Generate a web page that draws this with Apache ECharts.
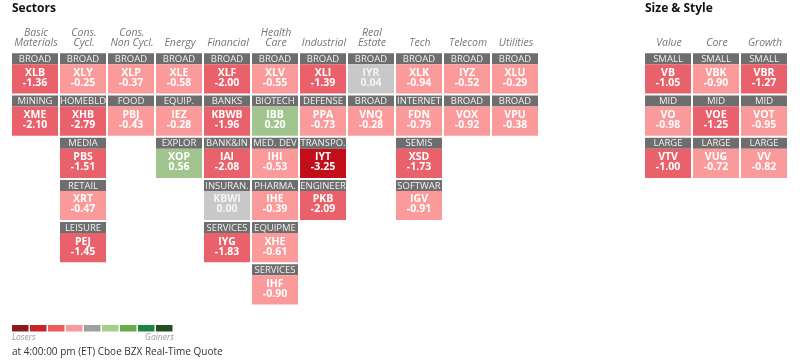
<!DOCTYPE html>
<html><head><meta charset="utf-8">
<script src="https://cdn.jsdelivr.net/npm/echarts@6/dist/echarts.min.js"></script>
<style>html,body{margin:0;padding:0;background:#fff}#chart{width:800px;height:362px}</style>
</head><body><div id="chart"></div>
<script>
var sectorCategories = ['Basic\nMaterials','Cons.\nCycl.','Cons.\nNon Cycl.','Energy','Financial','Health\nCare','Industrial','Real\nEstate','Tech','Telecom','Utilities'];
var sectorColumn = [0,0, 1,1,1,1,1, 2,2, 3,3,3, 4,4,4,4,4, 5,5,5,5,5,5, 6,6,6,6, 7,7, 8,8,8,8, 9,9, 10,10];
var sectorGroups = ['BROAD','MINING', 'BROAD','HOMEBLD','MEDIA','RETAIL','LEISURE', 'BROAD','FOOD', 'BROAD','EQUIP.','EXPLOR', 'BROAD','BANKS','BANK&IN','INSURAN.','SERVICES', 'BROAD','BIOTECH','MED. DEV','PHARMA.','EQUIPMEN','SERVICES', 'BROAD','DEFENSE','TRANSPO.','ENGINEER', 'BROAD','BROAD', 'BROAD','INTERNET','SEMIS','SOFTWAR', 'BROAD','BROAD', 'BROAD','BROAD'];
var sectorTickers = ['XLB','XME', 'XLY','XHB','PBS','XRT','PEJ', 'XLP','PBJ', 'XLE','IEZ','XOP', 'XLF','KBWB','IAI','KBWI','IYG', 'XLV','IBB','IHI','IHE','XHE','IHF', 'XLI','PPA','IYT','PKB', 'IYR','VNQ', 'XLK','FDN','XSD','IGV', 'IYZ','VOX', 'XLU','VPU'];
var sectorChanges = [-1.36,-2.10, -0.25,-2.79,-1.51,-0.47,-1.45, -0.37,-0.43, -0.58,-0.28,0.56, -2.00,-1.96,-2.08,0.00,-1.83, -0.55,0.20,-0.53,-0.39,-0.61,-0.90, -1.39,-0.73,-3.25,-2.09, 0.04,-0.28, -0.94,-0.79,-1.73,-0.91, -0.52,-0.92, -0.29,-0.38];

var styleCategories = ['Value','Core','Growth'];
var styleColumn = [0,0,0, 1,1,1, 2,2,2];
var styleRow = [0,1,2, 0,1,2, 0,1,2];
var styleGroups = ['SMALL','MID','LARGE', 'SMALL','MID','LARGE', 'SMALL','MID','LARGE'];
var styleTickers = ['VB','VO','VTV', 'VBK','VOE','VUG', 'VBR','VOT','VV'];
var styleChanges = [-1.05,-0.98,-1.00, -0.90,-1.25,-0.72, -1.27,-0.95,-0.82];

var rowSlots = ['1','2','3','4','5','6'];
var legendColors = ['#8b1c1c','#c9242a','#ef5a5a','#f79a9d','#a0a0a0','#a5cf8c','#68ac4e','#1a8440','#234d22'];

var FONT = '"Open Sans", sans-serif';

// rows within each sector column follow the listed order
var sectorRow = [];
var counts = {};
sectorColumn.forEach(function (c) { counts[c] = counts[c] || 0; sectorRow.push(counts[c]); counts[c]++; });

var sectorData = sectorColumn.map(function (c, i) { return [c, sectorRow[i], sectorChanges[i]]; });
var styleData = styleColumn.map(function (c, i) { return [c, styleRow[i], styleChanges[i]]; });

function makeRender(groups, tickers) {
  return function (params, api) {
    var c = api.coord([api.value(0), api.value(1)]);
    var s = api.size([1, 1]);
    var x = c[0] - s[0] / 2, y = c[1] - s[1] / 2;
    var w = s[0] - 2, h = s[1] - 2;
    var hh = 11;
    var v = api.value(2);
    var color = api.visual('color');
    var txt = Math.abs(v) < 0.1 ? '#f4f4f4' : '#ffffff';
    var i = params.dataIndex;
    return {
      type: 'group',
      children: [
        { type: 'rect', shape: { x: x, y: y, width: w, height: hh }, style: { fill: '#6e6e6e' } },
        { type: 'rect', shape: { x: x, y: y + hh, width: w, height: h - hh }, style: { fill: color } },
        { type: 'text', style: { text: groups[i], x: x + w / 2, y: y + hh / 2 + 0.5, align: 'center', verticalAlign: 'middle',
            fill: '#f0f0f0', font: '9.5px ' + FONT, width: w + 3, overflow: 'truncate', ellipsis: '' } },
        { type: 'text', style: { text: tickers[i], x: x + w / 2, y: y + hh + 8.5, align: 'center', verticalAlign: 'middle',
            fill: txt, font: 'bold 10.5px ' + FONT } },
        { type: 'text', style: { text: v.toFixed(2), x: x + w / 2, y: y + hh + 18.5, align: 'center', verticalAlign: 'middle',
            fill: txt, font: 'bold 10.5px ' + FONT } }
      ]
    };
  };
}

var xLabel = { interval: 0, fontFamily: FONT, fontStyle: 'italic', fontSize: 10.5, color: '#777', lineHeight: 10, margin: 5 };

var legendGraphics = legendColors.map(function (col, k) {
  return { type: 'rect', left: 12 + k * 18, top: 325, shape: { width: 16.5, height: 6.5 }, style: { fill: col } };
});
legendGraphics.push(
  { type: 'text', left: 12, top: 333, style: { text: 'Losers', font: 'italic 8.5px ' + FONT, fill: '#999' } },
  { type: 'text', right: 800 - 174, top: 333, style: { text: 'Gainers', font: 'italic 8.5px ' + FONT, fill: '#999' } },
  { type: 'text', left: 12, top: 347, style: { text: 'at 4:00:00 pm (ET) Cboe BZX Real-Time Quote', font: '10px ' + FONT, fill: '#333' } }
);

var chart = echarts.init(document.getElementById('chart'), null, { renderer: 'canvas' });
chart.setOption({
  animation: false,
  backgroundColor: '#fff',
  title: [
    { text: 'Sectors', left: 12, top: 3, padding: 0, textStyle: { fontFamily: FONT, fontSize: 12, fontWeight: 'bold', color: '#111' } },
    { text: 'Size & Style', left: 645, top: 3, padding: 0, textStyle: { fontFamily: FONT, fontSize: 12, fontWeight: 'bold', color: '#111' } }
  ],
  grid: [
    { left: 12, top: 53.3, width: 528, height: 253.2 },
    { left: 645, top: 53.3, width: 144, height: 253.2 }
  ],
  xAxis: [
    { gridIndex: 0, type: 'category', data: sectorCategories, position: 'top', axisLine: { show: false }, axisTick: { show: false }, splitLine: { show: false }, axisLabel: xLabel },
    { gridIndex: 1, type: 'category', data: styleCategories, position: 'top', axisLine: { show: false }, axisTick: { show: false }, splitLine: { show: false }, axisLabel: xLabel }
  ],
  yAxis: [
    { gridIndex: 0, type: 'category', data: rowSlots, inverse: true, show: false },
    { gridIndex: 1, type: 'category', data: rowSlots, inverse: true, show: false }
  ],
  visualMap: {
    type: 'piecewise', show: false, dimension: 2, seriesIndex: [0, 1],
    pieces: [
      { lt: -3, color: '#c10e18' },
      { gte: -3, lte: -1, color: '#e9616a' },
      { gt: -1, lt: -0.1, color: '#fb9a9a' },
      { gte: -0.1, lte: 0.1, color: '#c8c8c8' },
      { gt: 0.1, lte: 1, color: '#a2c48e' },
      { gt: 1, lte: 3, color: '#68ac4e' },
      { gt: 3, color: '#1a8440' }
    ]
  },
  series: [
    { type: 'custom', xAxisIndex: 0, yAxisIndex: 0, data: sectorData, renderItem: makeRender(sectorGroups, sectorTickers) },
    { type: 'custom', xAxisIndex: 1, yAxisIndex: 1, data: styleData, renderItem: makeRender(styleGroups, styleTickers) }
  ],
  graphic: legendGraphics
});
</script></body></html>
